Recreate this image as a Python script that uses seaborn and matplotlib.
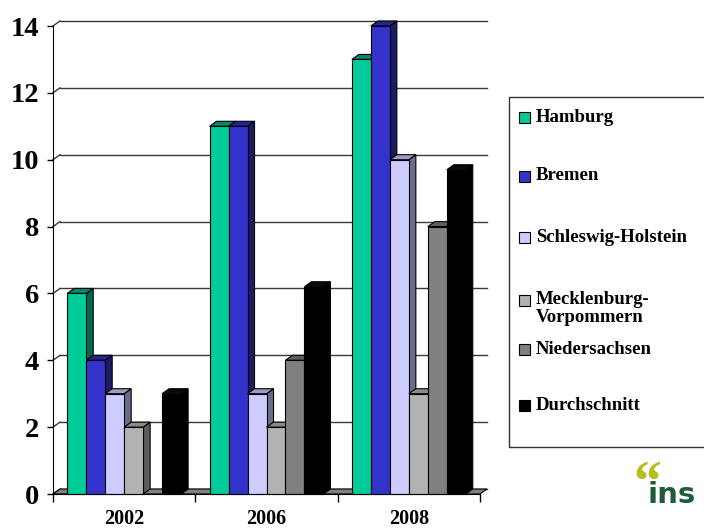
import numpy as np
import pandas as pd
import matplotlib
matplotlib.use("Agg")
import matplotlib.pyplot as plt
import seaborn as sns
from matplotlib.patches import Polygon, Rectangle
import matplotlib.colors as mcolors

# ---- data ----
years = ["2002", "2006", "2008"]
states = ["Hamburg", "Bremen", "Schleswig-Holstein", "Mecklenburg-Vorpommern",
          "Niedersachsen", "Durchschnitt"]
legend_labels = ["Hamburg", "Bremen", "Schleswig-Holstein", "Mecklenburg-\nVorpommern",
                 "Niedersachsen", "Durchschnitt"]
hamburg = [6, 11, 13]
bremen = [4, 11, 14]
schleswig_holstein = [3, 3, 10]
mecklenburg_vorpommern = [2, 2, 3]
niedersachsen = [np.nan, 4, 8]
durchschnitt = [3, 6.2, 9.7]
yticks = [0, 2, 4, 6, 8, 10, 12, 14]

series = [hamburg, bremen, schleswig_holstein, mecklenburg_vorpommern, niedersachsen, durchschnitt]
rows = []
for s, vals in zip(states, series):
    for y, v in zip(years, vals):
        rows.append({"year": y, "state": s, "value": v})
df = pd.DataFrame(rows)

front = ["#00CC99", "#3333CC", "#CCCCFF", "#B2B2B2", "#808080", "#000000"]
top = ["#00866A", "#262690", "#9C9CC8", "#8A8A8A", "#5E5E5E", "#0A0A0A"]
side = ["#006A4E", "#1C1C66", "#6B6B8C", "#5C5C5C", "#404040", "#000000"]
cmap_top = {mcolors.to_hex(f): t for f, t in zip(front, top)}
cmap_side = {mcolors.to_hex(f): s for f, s in zip(front, side)}

W, H = 704, 530
fig = plt.figure(figsize=(W / 100, H / 100), dpi=100)
ax_l, ax_r, ax_b, ax_t = 53, 480, 494, 26
ax = fig.add_axes([ax_l / W, (H - ax_b) / H, (ax_r - ax_l) / W, (ax_b - ax_t) / H])

sns.barplot(data=df, x="year", y="value", hue="state", order=years, hue_order=states,
            palette=front, saturation=1, width=0.8, edgecolor="black", linewidth=0.8,
            legend=False, ax=ax, zorder=3)
ax.set_xlim(-0.5, 2.5)
ax.set_ylim(0, 14)

# pixel -> data depth offsets
DX = 7 * 3 / (ax_r - ax_l)
DY = 5 * 14 / (ax_b - ax_t)

# floor
floor = Polygon([(-0.5, 0), (2.5, 0), (2.5 + DX, DY), (-0.5 + DX, DY)], closed=True,
                facecolor="#808080", edgecolor="black", linewidth=0.8, zorder=1.5, clip_on=False)
ax.add_patch(floor)

# gridlines on back wall + diagonal connectors
for t in yticks:
    ax.plot([-0.5 + DX, 2.5 + DX], [t + DY, t + DY], color="#3a3a3a", lw=1.0, zorder=1, clip_on=False)
    ax.plot([-0.5, -0.5 + DX], [t, t + DY], color="#3a3a3a", lw=1.0, zorder=1, clip_on=False)

# 3D faces
bars = [p for p in ax.patches if isinstance(p, Rectangle) and p is not floor]
bars = [p for p in bars if np.isfinite(p.get_height()) and p.get_height() > 0]
bars.sort(key=lambda p: p.get_x())
for i, p in enumerate(bars):
    x, w, h = p.get_x(), p.get_width(), p.get_height()
    fc = mcolors.to_hex(p.get_facecolor())
    z = 3 + i * 0.01
    p.set_zorder(z + 0.005)
    p.set_clip_on(False)
    sidep = Polygon([(x + w, 0), (x + w + DX, DY), (x + w + DX, h + DY), (x + w, h)], closed=True,
                    facecolor=cmap_side.get(fc, "#444444"), edgecolor="black", linewidth=0.8,
                    zorder=z, clip_on=False)
    topp = Polygon([(x, h), (x + w, h), (x + w + DX, h + DY), (x + DX, h + DY)], closed=True,
                   facecolor=cmap_top.get(fc, "#444444"), edgecolor="black", linewidth=0.8,
                   zorder=z + 0.002, clip_on=False)
    ax.add_patch(sidep)
    ax.add_patch(topp)

# axes styling
for sp in ["top", "right"]:
    ax.spines[sp].set_visible(False)
ax.spines["left"].set_color("black")
ax.spines["bottom"].set_color("black")
ax.spines["left"].set_zorder(5)
ax.spines["bottom"].set_zorder(5)
ax.set_facecolor("none")
ax.set_yticks(yticks)
ax.set_yticklabels([str(t) for t in yticks], fontfamily="Liberation Serif", fontweight="bold", fontsize=20.5)
ax.tick_params(axis="y", length=4, width=1, pad=6, color="black")
ax.set_xticks(range(len(years)))
ax.set_xticklabels(years, fontfamily="Liberation Serif", fontweight="bold", fontsize=14.5)
ax.tick_params(axis="x", which="major", length=0, pad=11)
ax.set_xticks([-0.5, 0.5, 1.5, 2.5], minor=True)
ax.tick_params(axis="x", which="minor", length=6, width=1, color="black", direction="out")
ax.set_xlabel("")
ax.set_ylabel("")
ax.grid(False)

# legend (manual)
fig.patches.append(Rectangle((509 / W, 1 - 447 / H), (720 - 509) / W, (447 - 97) / H,
                             transform=fig.transFigure, facecolor="white", edgecolor="#333333",
                             linewidth=1.0, zorder=0))
leg_y = [117, 176, 237, 300, 349, 405]
for lab, col, yc in zip(legend_labels, front, leg_y):
    sq = 11
    fig.patches.append(Rectangle((519 / W, 1 - (yc + sq / 2) / H), sq / W, sq / H,
                                 transform=fig.transFigure, facecolor=col, edgecolor="black",
                                 linewidth=0.8, zorder=2))
    if "\n" in lab:
        l1, l2 = lab.split("\n")
        fig.text(536 / W, 1 - yc / H, l1, fontfamily="Liberation Serif", fontweight="bold",
                 fontsize=13.5, va="center", ha="left")
        fig.text(536 / W, 1 - 317 / H, l2, fontfamily="Liberation Serif", fontweight="bold",
                 fontsize=13.5, va="center", ha="left")
    else:
        fig.text(536 / W, 1 - yc / H, lab, fontfamily="Liberation Serif", fontweight="bold",
                 fontsize=13.5, va="center", ha="left")

# logo
fig.text(633 / W, 1 - 500 / H, "\u201c", fontfamily="Liberation Serif", fontweight="bold",
         fontsize=40, color="#B4BE1C", va="baseline", ha="left")
fig.text(648 / W, 1 - 503 / H, "ins", fontfamily="DejaVu Sans", fontweight="bold",
         fontsize=21, color="#1F5C3A", va="baseline", ha="left")

fig.savefig("out.png", dpi=100, facecolor="white")
